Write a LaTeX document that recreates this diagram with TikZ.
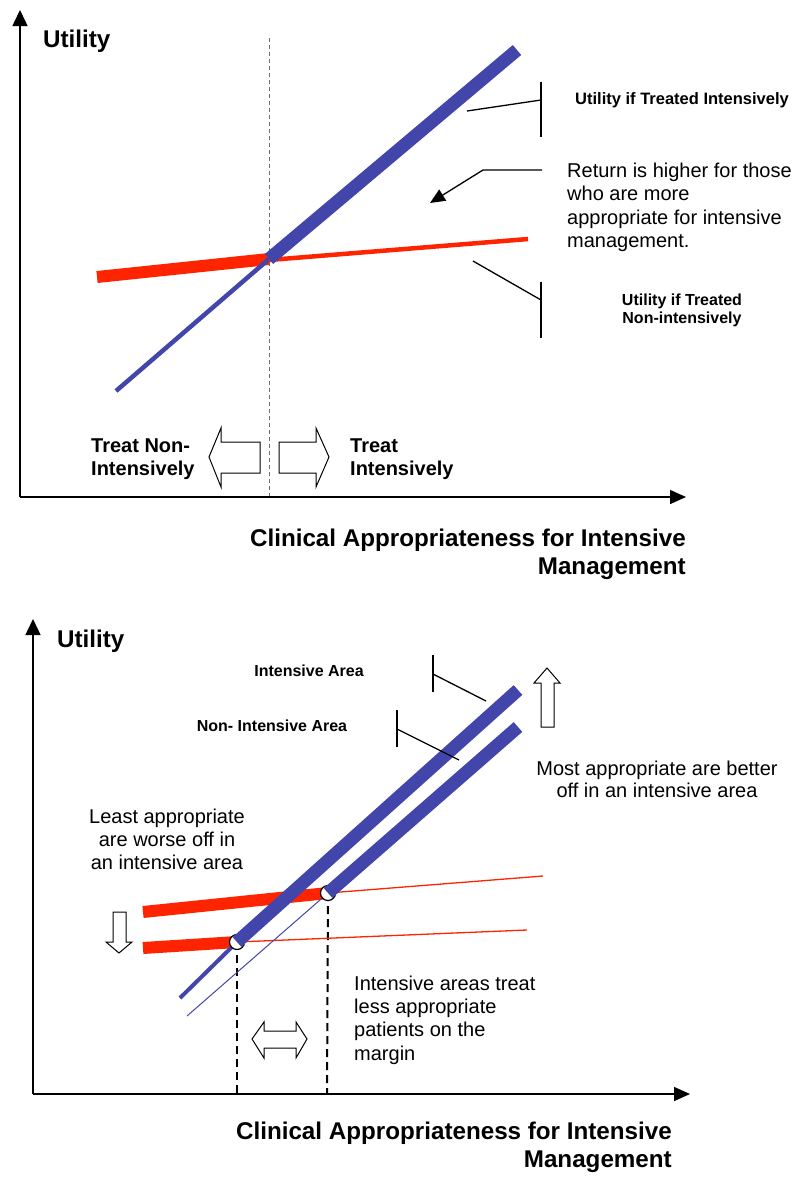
\documentclass[tikz,border=0pt]{standalone}
\usepackage{fontspec}
\setmainfont{Liberation Sans}
\usetikzlibrary{arrows.meta}
\definecolor{lineblue}{RGB}{66,70,170}
\definecolor{linered}{RGB}{255,36,0}
\definecolor{dashgray}{RGB}{110,110,110}
\tikzset{
  axisline/.style={line width=1.5pt,-{Triangle[length=16pt,width=15pt]}},
  thickblue/.style={lineblue,line width=13pt},
  thinblue/.style={lineblue,line width=4.5pt},
  hairblue/.style={lineblue,line width=1pt},
  thickred/.style={linered,line width=12pt},
  thinred/.style={linered,line width=4.5pt},
  hairred/.style={linered,line width=1.3pt},
  callout/.style={black,line width=1.3pt},
  blockarrow/.style={draw=black,fill=white,line width=1pt,line join=miter},
  margindash/.style={black,line width=2pt,dash pattern=on 8pt off 5pt},
  axislabel/.style={font=\fontsize{24.2}{28}\selectfont\bfseries,inner sep=0pt},
  smallbold/.style={font=\fontsize{16}{18}\selectfont\bfseries,inner sep=0pt},
  treatlabel/.style={font=\fontsize{20}{23}\selectfont\bfseries,inner sep=0pt},
  note/.style={font=\fontsize{20}{23.4}\selectfont,inner sep=0pt},
  ring/.style={draw=black,fill=white,line width=1.2pt}
}
\begin{document}
\begin{tikzpicture}[x=1pt,y=-1pt]
\useasboundingbox (0,0) rectangle (800,1179);
% ================= TOP CHART =================
\coordinate (O1) at (20,497);
\coordinate (Y1) at (20,10);
\coordinate (X1) at (686,497);
\coordinate (V1t) at (269,38);
\coordinate (V1b) at (269,497);
\draw[dashgray,line width=1pt,dash pattern=on 4pt off 3pt] (V1t) -- (V1b);
\draw[axisline] (O1) -- (Y1);
\draw[axisline,-{Triangle[length=16pt,width=14pt]}] (O1) -- (X1);
% lines
\coordinate (bA) at (116,391);
\coordinate (K1) at (269,259);
\coordinate (bB) at (517,50);
\coordinate (rA) at (97,277);
\coordinate (K1r) at (269,260);
\coordinate (rB) at (528,239);
\draw[thickred] (rA) -- (K1);
\draw[thinblue] (bA) -- (K1);
\draw[thinred] (K1r) -- (rB);
\draw[thickblue] (K1) -- (bB);
% callouts
\coordinate (c1t) at (541,82);
\coordinate (c1b) at (541,137);
\coordinate (c1m) at (541,100);
\coordinate (c1e) at (467,111);
\draw[callout] (c1t) -- (c1b);
\draw[callout] (c1m) -- (c1e);
\coordinate (c2t) at (541,282);
\coordinate (c2b) at (541,338);
\coordinate (c2m) at (541,300);
\coordinate (c2e) at (473,261);
\draw[callout] (c2t) -- (c2b);
\draw[callout] (c2m) -- (c2e);
\coordinate (r0) at (542,170);
\coordinate (r1) at (483,170);
\coordinate (r2) at (430,203);
\draw[callout,-{Triangle[length=15pt,width=13pt]}] (r0) -- (r1) -- (r2);
% block arrows
\draw[blockarrow] (209,457) -- (221,428) -- (221,442) -- (260,442) -- (260,473) -- (221,473) -- (221,487) -- cycle;
\draw[blockarrow] (329,457) -- (316,428) -- (316,442) -- (279,442) -- (279,473) -- (316,473) -- (316,487) -- cycle;
% texts
\node[smallbold,font=\fontsize{16.5}{19}\selectfont\bfseries,anchor=base] (uti) at (682,104) {Utility if Treated Intensively};
\node[axislabel,anchor=base west] (ut1) at (43,47) {Utility};
\node[smallbold,align=center,anchor=north] (utn) at (682,293.5) {Utility if Treated\\Non-intensively};
\node[note,align=left,anchor=north west] (ret) at (567,162.6) {Return is higher for those\\who are more\\appropriate for intensive\\management.};
\node[treatlabel,align=left,anchor=north west] (tni) at (91,438.6) {Treat Non-\\Intensively};
\node[treatlabel,align=left,anchor=north west] (ti) at (350,438.6) {Treat\\Intensively};
\node[axislabel,align=right,anchor=north east] (xl1) at (686,528.7) {Clinical Appropriateness for Intensive\\Management};
% ================= BOTTOM CHART =================
\coordinate (O2) at (33,1094);
\coordinate (Y2) at (33,619);
\coordinate (X2) at (690,1094);
\draw[axisline] (O2) -- (Y2);
\draw[axisline,-{Triangle[length=16pt,width=14pt]}] (O2) -- (X2);
\coordinate (CA) at (237,942);
\coordinate (CB) at (328,893);
\coordinate (aLow) at (180,998);
\coordinate (aHigh) at (518,690);
\coordinate (bLow) at (187,1016);
\coordinate (bHigh) at (518,727);
\coordinate (ruL) at (143,912);
\coordinate (ruR) at (543,876);
\coordinate (rlL) at (143,948);
\coordinate (rlR) at (527,930);
\coordinate (dA) at (237,1094);
\coordinate (dB) at (327,1094);
\draw[margindash] (CA) -- (dA);
\draw[margindash] (CB) -- (dB);
\draw[thickred] (ruL) -- (CB);
\draw[hairred] (CB) -- (ruR);
\draw[thickred] (rlL) -- (CA);
\draw[hairred] (CA) -- (rlR);
\draw[thinblue,line width=4pt] (aLow) -- (CA);
\draw[hairblue] (bLow) -- (CB);
\draw[ring] (CA) circle[radius=7.5pt];
\draw[ring] (CB) circle[radius=7.5pt];
\draw[thickblue] (CA) -- (aHigh);
\draw[thickblue] (CB) -- (bHigh);
% callouts
\coordinate (c3t) at (433,655);
\coordinate (c3b) at (433,692);
\coordinate (c3m) at (433,674);
\coordinate (c3e) at (486,701);
\draw[callout] (c3t) -- (c3b);
\draw[callout] (c3m) -- (c3e);
\coordinate (c4t) at (397,710);
\coordinate (c4b) at (397,747);
\coordinate (c4m) at (397,729);
\coordinate (c4e) at (459,760);
\draw[callout] (c4t) -- (c4b);
\draw[callout] (c4m) -- (c4e);
% block arrows
\draw[blockarrow] (547,668) -- (560,683) -- (554,683) -- (554,727) -- (541,727) -- (541,683) -- (534,683) -- cycle;
\draw[blockarrow] (119,953) -- (132,942) -- (126,942) -- (126,912) -- (113,912) -- (113,942) -- (106,942) -- cycle;
\draw[blockarrow] (252,1039) -- (264,1022) -- (264,1031) -- (296,1031) -- (296,1022) -- (307,1039) -- (296,1058) -- (296,1048) -- (264,1048) -- (264,1058) -- cycle;
% texts
\node[axislabel,anchor=base west] (ut2) at (57,647) {Utility};
\node[smallbold,anchor=base] (ia) at (309,676) {Intensive Area};
\node[smallbold,anchor=base] (nia) at (272,731) {Non- Intensive Area};
\node[note,font=\fontsize{20}{23}\selectfont,align=center,anchor=north] (least) at (167,808.6) {Least appropriate\\are worse off in\\an intensive area};
\node[note,font=\fontsize{20}{22}\selectfont,align=center,anchor=north] (most) at (657,760.6) {Most appropriate are better\\off in an intensive area};
\node[note,font=\fontsize{20}{23.3}\selectfont,align=left,anchor=north west] (marg) at (354,975.6) {Intensive areas treat\\less appropriate\\patients on the\\margin};
\node[axislabel,align=right,anchor=north east] (xl2) at (672,1121.7) {Clinical Appropriateness for Intensive\\Management};
\end{tikzpicture}
\end{document}
